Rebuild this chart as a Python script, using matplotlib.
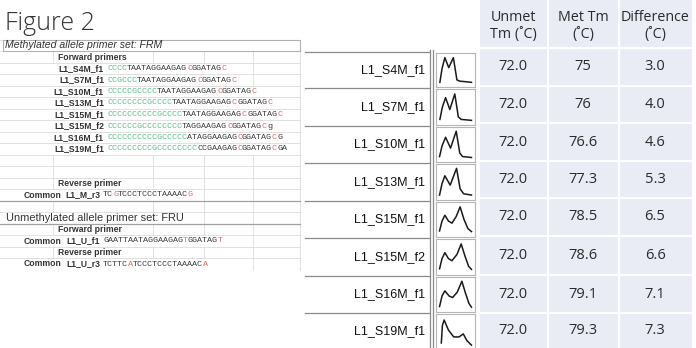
import matplotlib
matplotlib.use("Agg")
import matplotlib.pyplot as plt
from matplotlib.patches import Rectangle

W, H = 696, 348

# melt temperatures for each methylated forward primer
primer_names = ["L1_S4M_f1", "L1_S7M_f1", "L1_S10M_f1", "L1_S13M_f1",
                "L1_S15M_f1", "L1_S15M_f2", "L1_S16M_f1", "L1_S19M_f1"]
unmet_tm = [72.0, 72.0, 72.0, 72.0, 72.0, 72.0, 72.0, 72.0]
met_tm = [75, 76, 76.6, 77.3, 78.5, 78.6, 79.1, 79.3]
tm_diff = [3.0, 4.0, 4.6, 5.3, 6.5, 6.6, 7.1, 7.3]
table_header = ["Unmet\nTm (˚C)", "Met Tm\n(˚C)", "Difference\n(˚C)"]

# primer sequences as colour runs: g = C tail, r = CpG / converted site, k = plain
forward_runs = [
    [("CCCC", "g"), ("TAATAGGAAGAG", "k"), ("C", "r"), ("GGATAG", "k"), ("C", "r")],
    [("CCGCCC", "g"), ("TAATAGGAAGAG", "k"), ("C", "r"), ("GGATAG", "k"), ("C", "r")],
    [("CCCCCGCCCC", "g"), ("TAATAGGAAGAG", "k"), ("C", "r"), ("GGATAG", "k"), ("C", "r")],
    [("CCCCCCCCGCCCC", "g"), ("TAATAGGAAGAG", "k"), ("C", "r"), ("GGATAG", "k"), ("C", "r")],
    [("CCCCCCCCCCGCCCC", "g"), ("TAATAGGAAGAG", "k"), ("C", "r"), ("GGATAG", "k"), ("C", "r")],
    [("CCCCCCGCCCCCCCC", "g"), ("TAGGAAGAG", "k"), ("C", "r"), ("GGATAG", "k"), ("C", "r"), ("g", "k")],
    [("CCCCCCCCCCGCCCCC", "g"), ("ATAGGAAGAG", "k"), ("C", "r"), ("GGATAG", "k"), ("C", "r"), ("G", "k")],
    [("CCCCCCCCCGCCCCCCCC", "g"), ("CCGAAGAG", "k"), ("C", "r"), ("GGATAG", "k"), ("C", "r"), ("GA", "k")],
]
m_reverse = ("L1_M_r3", [("TC", "k"), ("G", "r"), ("TCCCTCCCTAAAAC", "k"), ("G", "r")])
u_forward = ("L1_U_f1", [("GAATTAATAGGAAGAG", "k"), ("T", "r"), ("GGATAG", "k"), ("T", "r")])
u_reverse = ("L1_U_r3", [("TCTTC", "k"), ("A", "r"), ("TCCCTCCCTAAAAC", "k"), ("A", "r")])

# melt curve thumbnails (normalised -dF/dT against temperature)
curve_x = [
    [0.06, 0.12, 0.20, 0.31, 0.44, 0.54, 0.62, 0.95],
    [0.06, 0.13, 0.22, 0.34, 0.48, 0.58, 0.66, 0.95],
    [0.05, 0.12, 0.22, 0.36, 0.52, 0.62, 0.70, 0.95],
    [0.05, 0.12, 0.20, 0.35, 0.53, 0.63, 0.73, 0.95],
    [0.05, 0.12, 0.20, 0.30, 0.40, 0.52, 0.63, 0.74, 0.85, 0.95],
    [0.05, 0.12, 0.20, 0.30, 0.40, 0.54, 0.66, 0.77, 0.87, 0.95],
    [0.05, 0.12, 0.20, 0.32, 0.42, 0.55, 0.68, 0.78, 0.88, 0.95],
    [0.10, 0.13, 0.18, 0.30, 0.45, 0.60, 0.72, 0.82, 0.95],
]
curve_y = [
    [0.08, 0.55, 0.92, 0.58, 0.92, 0.16, 0.12, 0.08],
    [0.10, 0.50, 0.80, 0.42, 0.92, 0.18, 0.10, 0.07],
    [0.10, 0.45, 0.74, 0.38, 0.94, 0.22, 0.10, 0.07],
    [0.08, 0.45, 0.70, 0.40, 0.94, 0.28, 0.12, 0.08],
    [0.12, 0.45, 0.64, 0.45, 0.38, 0.60, 0.92, 0.50, 0.20, 0.10],
    [0.12, 0.45, 0.64, 0.45, 0.38, 0.58, 0.92, 0.52, 0.20, 0.10],
    [0.10, 0.45, 0.62, 0.45, 0.40, 0.58, 0.94, 0.55, 0.20, 0.08],
    [0.12, 0.70, 0.88, 0.55, 0.32, 0.32, 0.42, 0.20, 0.05],
]

seq_colors = {"g": "#5bbd8c", "r": "#e06b6b", "k": "#3a3a3a"}
SEQ_SIZE = 6.0
PITCH = 0.6 * SEQ_SIZE * 100 / 72   # mono advance in pixels

fig = plt.figure(figsize=(W / 100, H / 100), dpi=100)
ax = fig.add_axes([0, 0, 1, 1])
ax.set_xlim(0, W)
ax.set_ylim(H, 0)
ax.axis("off")


def draw_seq(x0, y, runs):
    x = x0
    for seq, c in runs:
        ax.text(x, y, seq, color=seq_colors[c], fontsize=SEQ_SIZE,
                family="Liberation Mono", va="center", ha="left")
        x += len(seq) * PITCH
    return x


def label(x, y, s, size=6.2, ha="left", weight="bold", **kw):
    ax.text(x, y, s, fontsize=size, ha=ha, va="center", weight=weight,
            family="Liberation Sans", color="#333333", **kw)


# ---- primer sheet on the left ----
ROW0, ROWH = 45.5, 11.5
n_rows = 20
row_y = [ROW0 + ROWH * i for i in range(n_rows)]
occupied = {}

label(5, row_y[0], "Methylated allele primer set: FRM", size=7.6,
      weight="normal", style="italic")
occupied[0] = (3, 300)
label(58, row_y[1], "Forward primers")
occupied[1] = (56, 125)
for i, (name, runs) in enumerate(zip(primer_names, forward_runs)):
    y = row_y[2 + i]
    label(104, y, name, ha="right")
    end = draw_seq(107, y, runs)
    occupied[2 + i] = (52, end + 2)

label(58, row_y[12], "Reverse primer")
occupied[12] = (56, 122)
for r, (name, runs) in [(13, m_reverse), (17, u_forward), (19, u_reverse)]:
    label(24, row_y[r], "Common")
    label(100, row_y[r], name, ha="right")
    end = draw_seq(103, row_y[r], runs)
    occupied[r] = (22, end + 2)
label(6, row_y[15], "Unmethylated allele primer set: FRU", size=7.9,
      weight="normal")
occupied[15] = (4, 186)
label(58, row_y[16], "Forward primer")
occupied[16] = (56, 122)
label(58, row_y[18], "Reverse primer")
occupied[18] = (56, 122)

# grid of the sheet: vertical lines hidden where text spills over
for i in range(n_rows):
    top = row_y[i] - ROWH / 2
    ax.plot([0, 300], [top, top], color="#dcdcdc", lw=0.6, zorder=0)
    for gx in [53, 153, 204, 253, 300]:
        span = occupied.get(i)
        if span and span[0] < gx < span[1]:
            continue
        ax.plot([gx, gx], [top, top + ROWH], color="#dcdcdc", lw=0.6, zorder=0)
ax.add_patch(Rectangle((3, row_y[0] - ROWH / 2), 297, ROWH, fill=False,
                       edgecolor="#b0b0b0", lw=0.8))
for r in (13, 15):
    yb = row_y[r] + ROWH / 2
    ax.plot([0, 300], [yb, yb], color="#a0a0a0", lw=0.9)

# ---- primer names with melt curve thumbnails ----
mid_bounds = [52, 88, 126, 163, 201, 238, 276, 313, 350]
for i, name in enumerate(primer_names):
    top, bot = mid_bounds[i], mid_bounds[i + 1]
    ax.plot([305, 429], [top, top], color="#8a8a8a", lw=0.9)
    ax.text(425, (top + bot) / 2, name, fontsize=9, ha="right", va="center",
            family="Liberation Sans", color="#111111")
    th = fig.add_axes([436 / W, 1 - (bot - 1) / H, 39 / W, (bot - top - 2) / H])
    th.plot(curve_x[i], curve_y[i], color="#1a1a1a", lw=1.1)
    th.set_xlim(-0.05, 1.05)
    th.set_ylim(-0.08, 1.08)
    th.set_xticks([])
    th.set_yticks([])
    for sp in th.spines.values():
        sp.set_color("#b5b5b5")
        sp.set_linewidth(0.8)
for vx in (429.5, 433):
    ax.plot([vx, vx], [50, H], color="#8a8a8a", lw=0.9)

# ---- Tm table ----
tab_bounds = [48, 86, 123, 161, 198, 236, 275, 313, 348]
col_x = [513, 583, 655]
ax.add_patch(Rectangle((480, 0), 212, H, facecolor="#e9ebf5", edgecolor="none"))
for yb in tab_bounds[:-1]:
    ax.plot([480, 692], [yb, yb], color="white", lw=1.6)
for xb in (548, 619):
    ax.plot([xb, xb], [0, H], color="white", lw=1.6)
for cx, head in zip(col_x, table_header):
    ax.text(cx, 26, head, fontsize=10.3, ha="center", va="center",
            family=["Open Sans", "DejaVu Sans"], color="#2b2b2b", linespacing=1.15)
for i in range(len(primer_names)):
    y = (tab_bounds[i] + tab_bounds[i + 1]) / 2
    vals = [f"{unmet_tm[i]:.1f}", f"{met_tm[i]:g}", f"{tm_diff[i]:.1f}"]
    for cx, v in zip(col_x, vals):
        ax.text(cx, y, v, fontsize=10.5, ha="center", va="center",
                family="Open Sans", color="#2b2b2b")

ax.text(5, 23, "Figure 2", fontsize=18, ha="left", va="center",
        family="Open Sans", weight="light", color="#333333")

fig.savefig("out.png", dpi=100)
